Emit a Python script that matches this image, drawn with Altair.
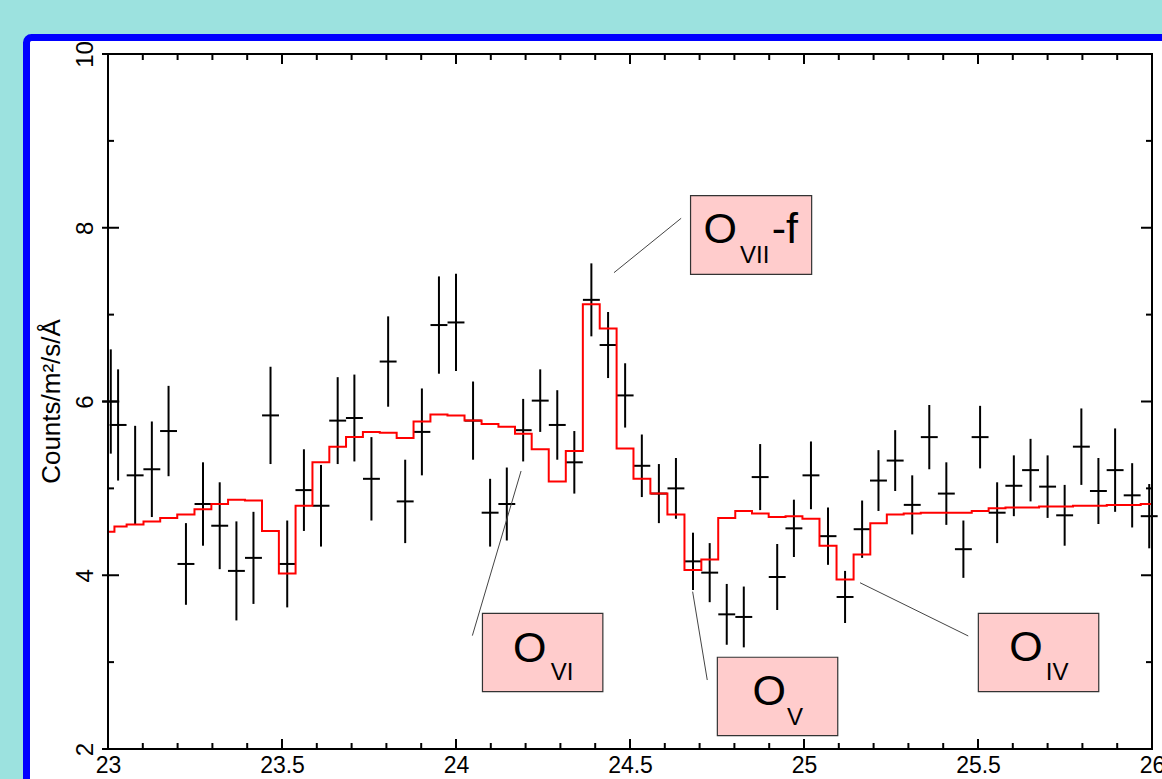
import altair as alt
import pandas as pd

# Measured spectrum: bin centre (Angstrom), flux and 1-sigma error
wave = [23.008, 23.029, 23.078, 23.126, 23.174, 23.224, 23.273, 23.321, 23.369, 23.418,
        23.467, 23.515, 23.563, 23.612, 23.660, 23.708, 23.757, 23.805, 23.854, 23.902,
        23.951, 24.000, 24.049, 24.098, 24.146, 24.193, 24.242, 24.291, 24.340, 24.389,
        24.437, 24.486, 24.534, 24.583, 24.632, 24.681, 24.729, 24.778, 24.827, 24.874,
        24.923, 24.971, 25.020, 25.069, 25.118, 25.167, 25.214, 25.262, 25.311, 25.360,
        25.409, 25.458, 25.506, 25.555, 25.603, 25.651, 25.700, 25.749, 25.797, 25.846,
        25.894, 25.943, 25.992]
flux = [6.00, 5.73, 5.15, 5.22, 5.66, 4.13, 4.82, 4.57, 4.05, 4.20,
        5.84, 4.13, 4.98, 4.80, 5.78, 5.81, 5.11, 6.46, 4.85, 5.65,
        6.88, 6.91, 5.78, 4.72, 4.82, 5.67, 6.01, 5.73, 5.30, 7.17,
        6.65, 6.07, 5.26, 4.94, 5.00, 4.16, 4.03, 3.55, 3.52, 5.13,
        3.98, 4.54, 5.15, 4.45, 3.75, 4.53, 5.09, 5.32, 4.81, 5.59,
        4.94, 4.30, 5.59, 4.72, 5.03, 5.21, 5.02, 4.69, 5.48, 4.97,
        5.21, 4.92, 4.68]
err = [0.60, 0.64, 0.57, 0.55, 0.52, 0.47, 0.48, 0.50, 0.57, 0.53,
       0.56, 0.50, 0.47, 0.47, 0.50, 0.50, 0.48, 0.52, 0.48, 0.50,
       0.56, 0.56, 0.45, 0.39, 0.42, 0.36, 0.36, 0.40, 0.36, 0.42,
       0.38, 0.37, 0.36, 0.34, 0.35, 0.33, 0.34, 0.35, 0.35, 0.38,
       0.38, 0.33, 0.39, 0.33, 0.30, 0.33, 0.35, 0.35, 0.34, 0.37,
       0.36, 0.33, 0.36, 0.35, 0.35, 0.36, 0.36, 0.35, 0.44, 0.38,
       0.48, 0.37, 0.37]
half_bin = 0.0243

# Best-fit model, one value per bin
model = [4.50, 4.56, 4.585, 4.62, 4.66, 4.70, 4.76, 4.82, 4.87, 4.86,
         4.51, 4.02, 4.80, 5.30, 5.48, 5.59, 5.65, 5.64, 5.58, 5.77,
         5.85, 5.84, 5.78, 5.74, 5.71, 5.63, 5.45, 5.08, 5.43, 7.12,
         6.84, 5.46, 5.11, 4.94, 4.70, 4.06, 4.18, 4.66, 4.74, 4.71,
         4.67, 4.68, 4.65, 4.34, 3.95, 4.24, 4.60, 4.70, 4.71, 4.72,
         4.72, 4.72, 4.74, 4.77, 4.78, 4.78, 4.79, 4.79, 4.80, 4.80,
         4.81, 4.81, 4.82]

# Axis ticks
x_major = [23.0, 23.5, 24.0, 24.5, 25.0, 25.5, 26.0]
x_minor = [23.1, 23.2, 23.3, 23.4, 23.6, 23.7, 23.8, 23.9, 24.1, 24.2, 24.3, 24.4,
           24.6, 24.7, 24.8, 24.9, 25.1, 25.2, 25.3, 25.4, 25.6, 25.7, 25.8, 25.9]
y_major = [2, 4, 6, 8, 10]
y_minor = [3, 5, 7, 9]

# Line identifications: boxes, labels and leader lines
box_x1 = [24.674, 24.076, 24.751, 25.501]
box_x2 = [25.022, 24.422, 25.097, 25.847]
box_y1 = [8.369, 3.562, 3.056, 3.562]
box_y2 = [7.464, 2.660, 2.153, 2.660]

label_text = ["O", "VII", "-f", "O", "VI", "O", "V", "O", "IV"]
label_x = [24.711, 24.816, 24.907, 24.164, 24.272, 24.852, 24.951, 25.590, 25.695]
label_y = [7.821, 7.598, 7.821, 3.005, 2.794, 2.507, 2.277, 3.017, 2.794]
label_size = [43, 24, 43, 43, 24, 43, 24, 43, 24]

lead_x1 = [24.454, 24.047, 24.680, 25.161]
lead_y1 = [7.483, 3.305, 3.811, 3.914]
lead_x2 = [24.647, 24.187, 24.722, 25.472]
lead_y2 = [8.109, 5.200, 2.794, 3.301]

W, H = 1044, 695
FONT = "Liberation Sans"

xs = alt.Scale(domain=[23, 26], nice=False, zero=False)
ys = alt.Scale(domain=[2, 10], nice=False, zero=False)

spec = pd.DataFrame({"x": wave, "y": flux, "e": err, "m": model})
spec["lo"] = spec["y"] - spec["e"]
spec["hi"] = spec["y"] + spec["e"]
spec["xl"] = spec["x"] - half_bin
spec["xr"] = spec["x"] + half_bin

model_df = pd.DataFrame({"x": [23.0] + wave + [26.0],
                         "m": [model[0]] + model + [model[-1]]})

one = pd.DataFrame({"k": [0]})

# White panel with blue border behind everything
panel = alt.Chart(one).mark_rect(
    fill="white", stroke="#0000ff", strokeWidth=7, cornerRadius=5
).encode(x=alt.value(-81.5), x2=alt.value(W + 30), y=alt.value(-16.5), y2=alt.value(H + 50))

xaxis = alt.Axis(values=x_major, format="~g", ticks=False, domain=False, grid=False,
                 labelFontSize=23, labelFont=FONT, labelColor="black", labelPadding=5,
                 labelFlush=False, labelBound=False, labelOverlap=False, title=None,
                 zindex=1)
yaxis = alt.Axis(values=y_major, format="d", ticks=False, domain=False, grid=False,
                 labelFontSize=24, labelFont=FONT, labelColor="black", labelAngle=270,
                 labelAlign="center", labelBaseline="alphabetic", labelPadding=16,
                 labelFlush=False, labelBound=False, labelOverlap=False,
                 title="Counts/m\u00b2/s/\u00c5", titleFont=FONT, titleFontSize=26,
                 titleFontWeight="normal", titleColor="black", titleAngle=270,
                 titleAlign="center", titleBaseline="middle", titleX=-57, titleY=347,
                 zindex=1)

# Only this layer carries axis settings; the others share its scales
vbars = alt.Chart(spec).mark_rule(color="black", strokeWidth=2).encode(
    x=alt.X("x:Q", scale=xs, axis=xaxis),
    y=alt.Y("lo:Q", scale=ys, axis=yaxis),
    y2="hi:Q",
)
hbars = alt.Chart(spec).mark_rule(color="black", strokeWidth=2).encode(
    x=alt.X("xl:Q", scale=xs),
    x2="xr:Q",
    y=alt.Y("y:Q", scale=ys),
)

model_line = alt.Chart(model_df).mark_line(
    interpolate="step", color="#ff0000", strokeWidth=2
).encode(
    x=alt.X("x:Q", scale=xs),
    y=alt.Y("m:Q", scale=ys),
)

# Inward ticks on all four sides
xmaj = pd.DataFrame({"v": x_major})
xmin = pd.DataFrame({"v": x_minor})
ymaj = pd.DataFrame({"v": y_major})
ymin = pd.DataFrame({"v": y_minor})


def xticks(df, y0, y1):
    return alt.Chart(df).mark_rule(color="black", strokeWidth=2).encode(
        x=alt.X("v:Q", scale=xs), y=alt.value(y0), y2=alt.value(y1))


def yticks(df, x0, x1):
    return alt.Chart(df).mark_rule(color="black", strokeWidth=2).encode(
        y=alt.Y("v:Q", scale=ys), x=alt.value(x0), x2=alt.value(x1))


ticks = [
    xticks(xmaj, H, H - 10), xticks(xmin, H, H - 6),
    xticks(xmaj, 0, 10), xticks(xmin, 0, 6),
    yticks(ymaj, -6, 11), yticks(ymin, 0, 6),
    yticks(ymaj, W - 11, W), yticks(ymin, W - 6, W),
]

frame = alt.Chart(one).mark_rect(
    fillOpacity=0, stroke="black", strokeWidth=2
).encode(x=alt.value(0), x2=alt.value(W), y=alt.value(0), y2=alt.value(H))

leaders = alt.Chart(pd.DataFrame({"x1": lead_x1, "y1": lead_y1, "x2": lead_x2, "y2": lead_y2})
                    ).mark_rule(color="#444444", strokeWidth=1).encode(
    x=alt.X("x1:Q", scale=xs), y=alt.Y("y1:Q", scale=ys),
    x2="x2:Q", y2="y2:Q",
)

boxes = alt.Chart(pd.DataFrame({"x1": box_x1, "x2": box_x2, "y1": box_y1, "y2": box_y2})
                  ).mark_rect(fill="#ffcccc", stroke="#333333", strokeWidth=1.2).encode(
    x=alt.X("x1:Q", scale=xs), x2="x2:Q",
    y=alt.Y("y1:Q", scale=ys), y2="y2:Q",
)

labels = alt.Chart(pd.DataFrame({"t": label_text, "x": label_x, "y": label_y, "s": label_size})
                   ).mark_text(align="left", baseline="alphabetic", font=FONT, color="black").encode(
    x=alt.X("x:Q", scale=xs), y=alt.Y("y:Q", scale=ys),
    text="t:N", size=alt.Size("s:Q", scale=None, legend=None),
)

chart = alt.layer(
    panel, vbars, *ticks, hbars, model_line, leaders, boxes, labels, frame
).properties(
    width=W, height=H,
    padding={"left": 108, "top": 54, "right": 10, "bottom": 30},
    autosize=alt.AutoSizeParams(type="none"),
    background="#9ce2df",
).configure_view(stroke=None)

chart.save("out.html", embed_options={"renderer": "svg", "actions": False})
